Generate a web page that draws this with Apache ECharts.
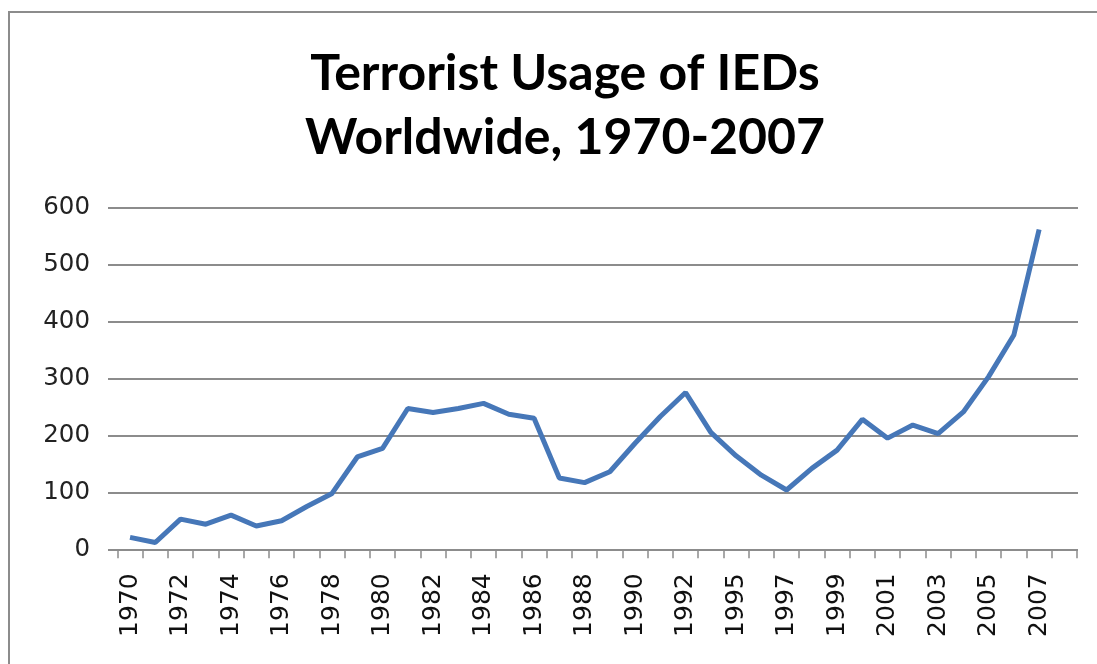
<!DOCTYPE html>
<html>
<head>
<meta charset="utf-8">
<script src="https://cdn.jsdelivr.net/npm/echarts@6/dist/echarts.min.js"></script>
<style>html,body{margin:0;padding:0;background:#fff}#c{width:1097px;height:664px}</style>
</head>
<body>
<div id="c"></div>
<script>
const titleText = "Terrorist Usage of IEDs\nWorldwide, 1970-2007";
const years = ["1970","1971","1972","1973","1974","1975","1976","1977","1978","1979","1980","1981","1982","1983","1984","1985","1986","1987","1988","1989","1990","1991","1992","1994","1995","1996","1997","1998","1999","2000","2001","2002","2003","2004","2005","2006","2007",""];
const iedAttacks = [21,12,53,44,60,41,50,75,98,162,177,247,240,247,256,237,230,125,117,136,186,233,275,205,164,130,104,142,174,228,195,218,203,241,303,376,561,null];
const yTicks = [0,100,200,300,400,500,600];

const chart = echarts.init(document.getElementById('c'));
const TOP = 207.3, BOTTOM = 664 - 549.3;
chart.setOption({
  animation: false,
  backgroundColor: '#fff',
  title: {
    text: titleText,
    left: 560, top: 37, textAlign: 'center',
    textStyle: { fontFamily: 'Lato', fontWeight: 'bold', fontSize: 50, lineHeight: 64, color: '#000' }
  },
  graphic: [{
    type: 'polyline', shape: { points: [[9, 700], [9, 12], [1110, 12]] },
    style: { stroke: '#8c8c8c', lineWidth: 2, fill: null }
  }],
  grid: [
    { left: 108, right: 19, top: TOP, bottom: BOTTOM },
    { left: 117.4, right: 20, top: TOP, bottom: BOTTOM }
  ],
  xAxis: [
    { type: 'value', gridIndex: 0, min: 0, max: 1, show: false },
    {
      type: 'category', gridIndex: 1, data: years, boundaryGap: true,
      axisLine: { show: false },
      axisTick: { show: true, interval: 0, length: 9, lineStyle: { color: '#8c8c8c', width: 1.5 } },
      axisLabel: { interval: 1, rotate: 90, margin: 24, fontFamily: 'DejaVu Sans', fontSize: 25, color: '#111' }
    }
  ],
  yAxis: [
    {
      type: 'value', gridIndex: 0, min: yTicks[0], max: yTicks[yTicks.length - 1], interval: 100,
      axisLine: { show: false }, axisTick: { show: false },
      splitLine: { lineStyle: { color: '#8c8c8c', width: 2 } },
      axisLabel: { margin: 18, fontFamily: 'DejaVu Sans', fontSize: 24.5, color: '#222',
        formatter: v => yTicks.includes(v) ? String(v) : '' }
    },
    { type: 'value', gridIndex: 1, min: 0, max: 600, show: false }
  ],
  series: [{
    type: 'line', xAxisIndex: 1, yAxisIndex: 1, data: iedAttacks,
    showSymbol: false, symbol: 'none',
    lineStyle: { color: '#4677b8', width: 5 }
  }]
});
</script>
</body>
</html>
